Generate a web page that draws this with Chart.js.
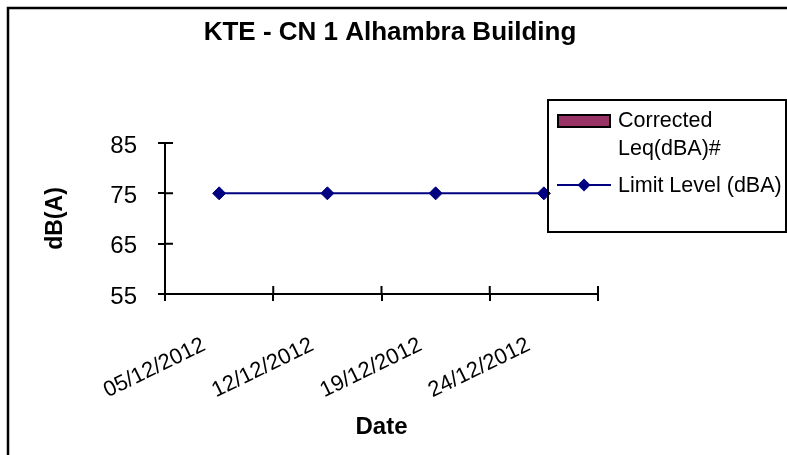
<!DOCTYPE html>
<html>
<head>
<meta charset="utf-8">
<script src="https://cdn.jsdelivr.net/npm/chart.js@4.4.1/dist/chart.umd.min.js"></script>
<style>
    html, body { margin: 0; padding: 0; background: #fff; }
    #wrap { width: 787px; height: 455px; }
</style>
</head>
<body>
<div id="wrap"><canvas id="noiseChart"></canvas></div>
<script>
// Veriler
const categories = ['05/12/2012', '12/12/2012', '19/12/2012', '24/12/2012'];
const correctedLeq = [null, null, null, null];
const limitLevel = [75, 75, 75, 75];
const yTickValues = [55, 65, 75, 85];

const chartTitle = 'KTE - CN 1 Alhambra Building';
const FONT = 'Arial, "Liberation Sans", sans-serif';

// Excel tarzı çerçeve, başlık, lejant ve çapraz tick çizgileri
const excelLook = {
    id: 'excelLook',
    afterDraw(chart) {
        const ctx = chart.ctx;
        const xs = chart.scales.x;
        const ys = chart.scales.y;
        const area = chart.chartArea;
        ctx.save();

        // dış çerçeve
        ctx.strokeStyle = '#000';
        ctx.lineWidth = 2.5;
        ctx.strokeRect(8, 8, 800, 460);

        // başlık
        ctx.fillStyle = '#000';
        ctx.font = 'bold 26px ' + FONT;
        ctx.textAlign = 'center';
        ctx.textBaseline = 'alphabetic';
        ctx.fillText(chartTitle, 390, 40);

        // tick çizgilerinin iç kısmı
        ctx.lineWidth = 2;
        ctx.beginPath();
        yTickValues.forEach(v => {
            const py = ys.getPixelForValue(v);
            ctx.moveTo(area.left, py);
            ctx.lineTo(area.left + 8, py);
        });
        for (let i = 0; i <= categories.length; i++) {
            const px = xs.getPixelForValue(i - 0.5);
            ctx.moveTo(px, area.bottom);
            ctx.lineTo(px, area.bottom - 8);
        }
        ctx.stroke();

        // lejant
        ctx.lineWidth = 2;
        ctx.strokeRect(548, 100, 238, 132);
        ctx.font = '21.5px ' + FONT;
        ctx.textAlign = 'left';
        const bar = chart.data.datasets[0];
        const line = chart.data.datasets[1];

        ctx.fillStyle = bar.backgroundColor;
        ctx.fillRect(558, 115, 52, 12);
        ctx.strokeStyle = bar.borderColor;
        ctx.strokeRect(558, 115, 52, 12);
        ctx.fillStyle = '#000';
        const words = bar.label.split(' ');
        ctx.fillText(words[0], 618, 127);
        ctx.fillText(words.slice(1).join(' '), 618, 155);

        ctx.strokeStyle = line.borderColor;
        ctx.beginPath();
        ctx.moveTo(557, 185);
        ctx.lineTo(611, 185);
        ctx.stroke();
        ctx.fillStyle = line.backgroundColor;
        ctx.beginPath();
        ctx.moveTo(584, 178.5);
        ctx.lineTo(590.5, 185);
        ctx.lineTo(584, 191.5);
        ctx.lineTo(577.5, 185);
        ctx.closePath();
        ctx.fill();
        ctx.fillStyle = '#000';
        ctx.fillText(line.label, 618, 192);

        ctx.restore();
    }
};

const noiseChart = new Chart(
    document.getElementById('noiseChart'),
    {
        type: 'bar',
        data: {
            labels: categories,
            datasets: [{
                label: 'Corrected Leq(dBA)#',
                data: correctedLeq,
                backgroundColor: '#993366',
                borderColor: '#000000',
                borderWidth: 1
            }, {
                type: 'line',
                label: 'Limit Level (dBA)',
                data: limitLevel,
                borderColor: '#000080',
                backgroundColor: '#000080',
                borderWidth: 2,
                tension: 0,
                pointStyle: 'rectRot',
                pointRadius: 6.5,
                pointHoverRadius: 6.5,
                pointBorderWidth: 1
            }]
        },
        options: {
            responsive: true,
            maintainAspectRatio: false,
            animation: false,
            layout: {
                padding: { left: 0, right: 189, top: 143, bottom: 0 }
            },
            plugins: {
                legend: { display: false },
                title: { display: false },
                tooltip: { enabled: false }
            },
            scales: {
                x: {
                    afterFit: s => { s.height = 161; },
                    grid: {
                        drawOnChartArea: false,
                        offset: true,
                        tickLength: 7,
                        color: '#000',
                        lineWidth: 2
                    },
                    border: { color: '#000', width: 2 },
                    ticks: {
                        color: '#000',
                        font: { family: FONT, size: 22 },
                        minRotation: 26,
                        maxRotation: 26,
                        autoSkip: false,
                        labelOffset: -15,
                        padding: 31
                    },
                    title: {
                        display: true,
                        text: 'Date',
                        color: '#000',
                        font: { family: FONT, size: 24, weight: 'bold' },
                        padding: { top: 0, bottom: 13 }
                    }
                },
                y: {
                    min: 55,
                    max: 85,
                    afterBuildTicks: s => { s.ticks = yTickValues.map(v => ({ value: v })); },
                    afterFit: s => { s.width = 165; },
                    grid: {
                        drawOnChartArea: false,
                        tickLength: 7,
                        color: '#000',
                        lineWidth: 2
                    },
                    border: { color: '#000', width: 2 },
                    ticks: {
                        color: '#000',
                        font: { family: FONT, size: 24 },
                        padding: 21,
                        labelOffset: 3
                    },
                    title: {
                        display: true,
                        text: 'dB(A)',
                        color: '#000',
                        font: { family: FONT, size: 23, weight: 'bold' },
                        padding: { top: 42, bottom: 0 }
                    }
                }
            }
        },
        plugins: [excelLook]
    }
);
</script>
</body>
</html>
